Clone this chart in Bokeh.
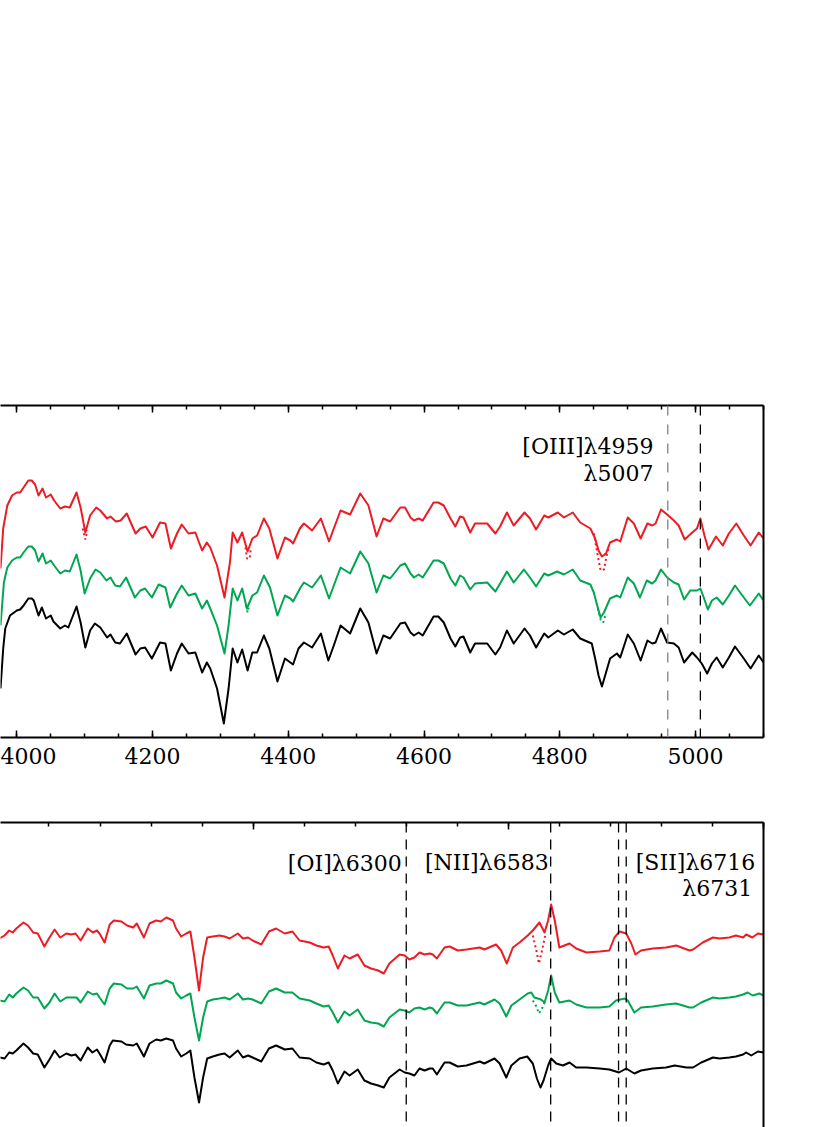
from bokeh.plotting import figure
from bokeh.models import LinearAxis, FixedTicker, Span, Label, Range1d
from bokeh.layouts import column
from bokeh.embed import file_html
from bokeh.resources import INLINE

# ---------------- data: top panel (4000-5100 A) ----------------
top_black_wl = [3976, 3980, 3983, 3990, 4000, 4005, 4010, 4017, 4022, 4025, 4032, 4037, 4043, 4050, 4054,
                4064, 4071, 4076, 4088, 4094, 4101, 4108, 4115, 4123, 4133, 4138, 4145, 4152, 4162, 4175,
                4182, 4189, 4199, 4211, 4219, 4227, 4236, 4243, 4253, 4263, 4273, 4280, 4285, 4295, 4305,
                4312, 4318, 4325, 4332, 4340, 4347, 4354, 4364, 4372, 4384, 4395, 4403, 4407, 4415, 4423,
                4435, 4448, 4459, 4467, 4477, 4491, 4506, 4518, 4530, 4540, 4550,
                4565, 4572, 4580, 4585, 4592, 4598, 4614, 4621, 4629, 4639, 4646, 4653, 4658, 4668, 4675,
                4693, 4705, 4712, 4722, 4732, 4748, 4756, 4765, 4777, 4783, 4797, 4806, 4819, 4830, 4847,
                4852, 4857, 4862, 4868, 4874, 4884, 4889, 4900, 4909, 4919, 4929, 4936, 4941, 4949, 4958,
                4968, 4975, 4983, 4995, 5002, 5009, 5017, 5024, 5031, 5040, 5049, 5058, 5071, 5081, 5093, 5100]
top_black_flux = [0.49, 0.89, 1.09, 1.22, 1.27, 1.28, 1.32, 1.39, 1.39, 1.37, 1.22, 1.30, 1.19, 1.22, 1.16,
                  1.09, 1.12, 1.10, 1.31, 1.15, 0.90, 1.07, 1.14, 1.10, 1.00, 1.03, 0.95, 0.94, 1.04, 0.83,
                  0.89, 0.90, 0.79, 0.95, 0.94, 0.67, 0.84, 0.94, 0.84, 0.85, 0.65, 0.75, 0.69, 0.49, 0.14,
                  0.49, 0.89, 0.75, 0.88, 0.67, 0.85, 0.85, 1.02, 0.89, 0.56, 0.79, 0.75, 0.73, 0.89, 0.95,
                  0.90, 1.04, 0.77, 0.92, 1.12, 1.04, 1.29, 1.15, 0.84, 1.02, 0.99,
                  1.14, 1.15, 1.05, 1.02, 1.05, 1.02, 1.21, 1.21, 1.15, 0.99, 0.91, 1.00, 1.01, 0.85, 0.94,
                  0.94, 0.83, 0.90, 1.07, 0.94, 1.09, 1.02, 0.90, 1.04, 1.00, 1.07, 1.03, 1.08, 0.99, 0.94,
                  0.79, 0.62, 0.51, 0.65, 0.79, 0.84, 0.80, 1.03, 0.94, 0.77, 0.97, 0.94, 0.95, 1.09, 0.95,
                  0.94, 0.90, 0.75, 0.85, 0.80, 0.74, 0.64, 0.74, 0.80, 0.70, 0.80, 0.91, 0.79, 0.69, 0.82, 0.75]

top_green_wl = [3976, 3981, 3986, 3993, 4000, 4005, 4010, 4017, 4022, 4027, 4032, 4038, 4043, 4050, 4055,
                4064, 4071, 4078, 4088, 4094, 4100, 4108, 4116, 4123, 4132, 4138, 4145, 4152, 4161, 4174,
                4182, 4189, 4199, 4209, 4219, 4226, 4236, 4243, 4253, 4263, 4273, 4280, 4285, 4295, 4306,
                4312, 4318, 4325, 4332, 4339, 4347, 4354, 4364, 4373, 4384, 4395, 4403, 4407, 4418, 4423,
                4435, 4448, 4460, 4467, 4477, 4491, 4506, 4518, 4530, 4540, 4550,
                4565, 4572, 4580, 4585, 4592, 4598, 4614, 4621, 4629, 4639, 4646, 4653, 4658, 4668, 4675,
                4693, 4705, 4712, 4722, 4732, 4747, 4756, 4765, 4777, 4783, 4796, 4806, 4819, 4830, 4845,
                4850, 4855, 4860, 4865, 4874, 4884, 4889, 4900, 4909, 4918, 4928, 4936, 4941, 4949, 4958,
                4968, 4975, 4983, 4992, 5002, 5007, 5012, 5018, 5024, 5031, 5040, 5049, 5058, 5071, 5080,
                5093, 5100]
top_green_flux = [1.12, 1.55, 1.70, 1.77, 1.80, 1.80, 1.85, 1.91, 1.91, 1.87, 1.76, 1.84, 1.74, 1.77, 1.72,
                  1.64, 1.67, 1.66, 1.83, 1.67, 1.44, 1.59, 1.68, 1.65, 1.57, 1.60, 1.52, 1.51, 1.60, 1.40,
                  1.47, 1.49, 1.40, 1.53, 1.50, 1.30, 1.44, 1.52, 1.42, 1.44, 1.29, 1.37, 1.29, 1.12, 0.84,
                  1.12, 1.49, 1.37, 1.49, 1.29, 1.42, 1.45, 1.62, 1.50, 1.22, 1.42, 1.39, 1.36, 1.50, 1.55,
                  1.50, 1.62, 1.39, 1.52, 1.70, 1.64, 1.86, 1.74, 1.45, 1.62, 1.59,
                  1.72, 1.74, 1.64, 1.60, 1.63, 1.60, 1.77, 1.77, 1.74, 1.59, 1.52, 1.62, 1.60, 1.48, 1.54,
                  1.55, 1.46, 1.54, 1.66, 1.55, 1.68, 1.60, 1.51, 1.64, 1.62, 1.66, 1.63, 1.68, 1.57, 1.53,
                  1.45, 1.32, 1.20, 1.25, 1.39, 1.42, 1.40, 1.60, 1.54, 1.40, 1.57, 1.54, 1.57, 1.68, 1.60,
                  1.55, 1.53, 1.38, 1.47, 1.47, 1.49, 1.40, 1.28, 1.37, 1.40, 1.33, 1.42, 1.52, 1.40, 1.32,
                  1.44, 1.37]

top_red_wl = [3976, 3980, 3986, 3993, 4000, 4005, 4010, 4017, 4022, 4027, 4032, 4038, 4043, 4050, 4055,
              4064, 4071, 4078, 4088, 4094, 4101, 4108, 4117, 4123, 4133, 4138, 4146, 4153, 4162, 4175,
              4182, 4190, 4200, 4211, 4219, 4227, 4236, 4243, 4253, 4263, 4273, 4280, 4285, 4295, 4306,
              4314, 4318, 4325, 4332, 4340, 4347, 4354, 4364, 4372, 4384, 4395, 4403, 4407, 4417, 4423,
              4435, 4448, 4460, 4467, 4477, 4491, 4506, 4518, 4530, 4540, 4550,
              4565, 4572, 4580, 4585, 4592, 4598, 4614, 4621, 4629, 4639, 4646, 4653, 4658, 4668, 4675,
              4693, 4705, 4712, 4722, 4732, 4748, 4756, 4765, 4777, 4783, 4797, 4806, 4819, 4830, 4845,
              4852, 4857, 4862, 4868, 4874, 4884, 4889, 4900, 4909, 4919, 4929, 4936, 4941, 4949, 4958,
              4968, 4975, 4984, 4995, 5002, 5007, 5013, 5019, 5030, 5040, 5049, 5060, 5071, 5081, 5093, 5100]
top_red_flux = [1.69, 2.09, 2.32, 2.42, 2.45, 2.45, 2.50, 2.57, 2.57, 2.53, 2.42, 2.49, 2.40, 2.43, 2.37,
                2.29, 2.31, 2.30, 2.45, 2.30, 2.05, 2.22, 2.30, 2.27, 2.19, 2.21, 2.16, 2.17, 2.24, 2.04,
                2.09, 2.11, 2.00, 2.15, 2.14, 1.89, 2.04, 2.13, 2.04, 2.05, 1.87, 1.95, 1.90, 1.72, 1.40,
                1.75, 2.05, 1.95, 2.05, 1.86, 1.99, 2.02, 2.19, 2.09, 1.79, 2.00, 1.97, 1.94, 2.09, 2.14,
                2.07, 2.19, 1.96, 2.09, 2.27, 2.23, 2.44, 2.32, 2.01, 2.19, 2.16,
                2.30, 2.30, 2.20, 2.17, 2.19, 2.17, 2.35, 2.35, 2.32, 2.19, 2.11, 2.21, 2.20, 2.05, 2.14,
                2.14, 2.04, 2.11, 2.25, 2.12, 2.25, 2.19, 2.08, 2.22, 2.20, 2.25, 2.20, 2.25, 2.15, 2.09,
                1.99, 1.87, 1.81, 1.84, 1.95, 1.98, 1.96, 2.20, 2.14, 1.99, 2.14, 2.12, 2.14, 2.28, 2.23,
                2.17, 2.12, 1.98, 2.05, 2.09, 2.19, 2.02, 1.88, 2.01, 1.92, 2.04, 2.14, 2.02, 1.92, 2.05, 1.99]

# dotted (uncorrected) absorption profiles, top panel
top_red_dots = [([4097, 4101, 4104], [2.09, 1.98, 2.07]),
                ([4337, 4339, 4343, 4345], [1.90, 1.79, 1.79, 1.90]),
                ([4850, 4855, 4860, 4865, 4869, 4872], [2.04, 1.85, 1.67, 1.68, 1.82, 1.90])]
top_green_dots = [([4338, 4340, 4342], [1.32, 1.25, 1.32]),
                  ([4856, 4860, 4864, 4867], [1.29, 1.18, 1.15, 1.22])]

top_lines = [4959, 5007]
top_line_colors = ["#808080", "#000000"]
top_ticks = [4000, 4200, 4400, 4600, 4800, 5000]
top_minor = list(range(3950, 5101, 50))

# ---------------- data: bottom panel (5500-7000 A) ----------------
bot_black_wl = [5503, 5513, 5522, 5529, 5536, 5550, 5559, 5569, 5578, 5591, 5601, 5611, 5621, 5634, 5644,
                5652, 5662, 5676, 5685, 5694, 5699, 5709, 5719, 5725, 5742, 5751, 5765, 5772, 5786, 5797,
                5810, 5819, 5830, 5843, 5849, 5859, 5869, 5877, 5885, 5894, 5902, 5910, 5921, 5934, 5944,
                5954, 5970, 5980, 5990, 5999, 6016, 6031, 6045, 6062, 6077, 6091, 6111, 6124, 6138, 6148,
                6156, 6166, 6179, 6189, 6205, 6218, 6231, 6245, 6256, 6267,
                6287, 6297, 6306, 6316, 6326, 6336, 6346, 6352, 6360, 6375, 6385, 6401, 6418, 6444, 6453,
                6473, 6483, 6496, 6506, 6522, 6537, 6548, 6556, 6563, 6569, 6578, 6584, 6594, 6607, 6620,
                6633, 6653, 6679, 6698, 6717, 6731, 6747, 6760, 6783, 6809, 6826, 6849, 6862, 6878, 6901,
                6914, 6933, 6946, 6960, 6966, 6976, 6989, 7000]
bot_black_flux = [0.97, 0.96, 1.02, 1.01, 1.04, 1.11, 1.07, 1.01, 1.00, 0.87, 0.95, 1.04, 0.97, 1.01, 0.99,
                  1.00, 0.94, 1.07, 1.02, 1.05, 1.01, 0.92, 1.09, 1.14, 1.13, 1.10, 1.09, 1.11, 0.98, 1.11,
                  1.15, 1.14, 1.16, 1.14, 1.06, 0.98, 1.01, 1.04, 0.77, 0.52, 0.77, 0.96, 0.98, 1.00, 1.01,
                  0.97, 1.04, 0.97, 0.99, 0.97, 0.93, 1.06, 1.09, 1.05, 1.06, 0.97, 0.96, 0.92, 0.90, 0.92,
                  0.84, 0.71, 0.83, 0.79, 0.85, 0.74, 0.71, 0.69, 0.67, 0.77,
                  0.85, 0.82, 0.81, 0.79, 0.86, 0.84, 0.86, 0.86, 0.80, 0.92, 0.92, 0.88, 0.89, 0.93, 0.91,
                  0.96, 0.91, 0.77, 0.89, 0.96, 0.98, 0.91, 0.76, 0.67, 0.74, 0.89, 0.96, 0.91, 0.89, 0.92,
                  0.87, 0.87, 0.86, 0.85, 0.82, 0.86, 0.81, 0.84, 0.86, 0.87, 0.89, 0.87, 0.87, 0.92, 0.97,
                  0.96, 0.97, 0.98, 1.00, 1.02, 0.99, 1.03, 1.02]

bot_green_wl = [5503, 5513, 5522, 5529, 5536, 5550, 5559, 5569, 5578, 5591, 5601, 5611, 5622, 5634, 5644,
                5654, 5662, 5676, 5686, 5694, 5699, 5709, 5719, 5727, 5742, 5753, 5765, 5772, 5786, 5797,
                5810, 5819, 5830, 5843, 5849, 5859, 5869, 5877, 5885, 5894, 5902, 5910, 5921, 5934, 5944,
                5954, 5970, 5980, 5990, 5999, 6016, 6031, 6045, 6062, 6077, 6091, 6111, 6124, 6138, 6148,
                6156, 6166, 6179, 6189, 6205, 6218, 6231, 6245, 6256, 6267,
                6287, 6297, 6306, 6316, 6326, 6336, 6346, 6352, 6360, 6375, 6385, 6401, 6418, 6444, 6453,
                6473, 6483, 6496, 6506, 6522, 6538, 6545, 6551, 6558, 6564, 6571, 6578, 6584, 6591, 6600,
                6620, 6633, 6653, 6679, 6698, 6711, 6728, 6734, 6747, 6760, 6783, 6809, 6829, 6855, 6862,
                6878, 6901, 6914, 6933, 6946, 6960, 6969, 6979, 6992, 7000]
bot_green_flux = [1.54, 1.53, 1.60, 1.57, 1.61, 1.67, 1.64, 1.57, 1.57, 1.46, 1.52, 1.61, 1.53, 1.57, 1.57,
                  1.57, 1.52, 1.63, 1.60, 1.61, 1.57, 1.50, 1.66, 1.71, 1.70, 1.66, 1.66, 1.68, 1.56, 1.69,
                  1.71, 1.71, 1.74, 1.71, 1.62, 1.56, 1.59, 1.61, 1.37, 1.14, 1.37, 1.53, 1.55, 1.56, 1.57,
                  1.55, 1.61, 1.55, 1.56, 1.55, 1.51, 1.63, 1.66, 1.62, 1.62, 1.56, 1.54, 1.51, 1.48, 1.49,
                  1.42, 1.32, 1.43, 1.39, 1.45, 1.34, 1.32, 1.31, 1.28, 1.37,
                  1.45, 1.44, 1.42, 1.46, 1.47, 1.45, 1.47, 1.46, 1.41, 1.52, 1.52, 1.49, 1.49, 1.52, 1.50,
                  1.55, 1.51, 1.38, 1.49, 1.55, 1.61, 1.62, 1.57, 1.56, 1.55, 1.52, 1.64, 1.79, 1.62, 1.52,
                  1.54, 1.50, 1.47, 1.47, 1.48, 1.54, 1.56, 1.54, 1.42, 1.47, 1.48, 1.50, 1.51, 1.47, 1.47,
                  1.52, 1.57, 1.56, 1.57, 1.58, 1.60, 1.62, 1.59, 1.61, 1.59]

bot_red_wl = [5503, 5513, 5522, 5529, 5536, 5550, 5559, 5569, 5578, 5591, 5601, 5611, 5622, 5634, 5644,
              5652, 5662, 5676, 5686, 5694, 5699, 5709, 5719, 5727, 5742, 5753, 5765, 5772, 5786, 5797,
              5810, 5819, 5830, 5843, 5849, 5859, 5869, 5877, 5885, 5894, 5902, 5910, 5921, 5934, 5944,
              5954, 5970, 5980, 5990, 5999, 6016, 6031, 6045, 6062, 6077, 6091, 6111, 6124, 6138, 6148,
              6156, 6166, 6179, 6189, 6205, 6218, 6231, 6245, 6256, 6267,
              6287, 6297, 6306, 6316, 6326, 6336, 6346, 6352, 6360, 6375, 6385, 6401, 6418, 6444, 6453,
              6476, 6486, 6497, 6509, 6522, 6538, 6548, 6561, 6571, 6578, 6584, 6591, 6600, 6620, 6633,
              6653, 6679, 6698, 6708, 6718, 6731, 6741, 6749, 6760, 6783, 6809, 6829, 6855, 6862, 6881,
              6901, 6914, 6933, 6946, 6960, 6966, 6978, 6989, 7000]
bot_red_flux = [2.16, 2.19, 2.24, 2.22, 2.26, 2.32, 2.29, 2.22, 2.21, 2.08, 2.17, 2.25, 2.17, 2.21, 2.20,
                2.21, 2.14, 2.26, 2.22, 2.24, 2.21, 2.12, 2.30, 2.34, 2.33, 2.29, 2.27, 2.31, 2.17, 2.31,
                2.34, 2.33, 2.37, 2.34, 2.26, 2.18, 2.21, 2.23, 1.97, 1.64, 1.97, 2.17, 2.18, 2.19, 2.18,
                2.16, 2.21, 2.16, 2.17, 2.14, 2.10, 2.23, 2.26, 2.21, 2.23, 2.14, 2.12, 2.09, 2.07, 2.08,
                1.99, 1.86, 1.99, 1.96, 2.00, 1.89, 1.86, 1.84, 1.81, 1.91,
                2.00, 1.99, 1.95, 1.97, 2.02, 2.00, 2.01, 2.00, 1.96, 2.07, 2.08, 2.04, 2.05, 2.07, 2.05,
                2.10, 2.04, 1.91, 2.07, 2.12, 2.19, 2.24, 2.32, 2.22, 2.34, 2.50, 2.34, 2.07, 2.11, 2.06,
                2.02, 2.03, 2.04, 2.17, 2.23, 2.21, 2.11, 2.00, 2.04, 2.06, 2.07, 2.09, 2.04, 2.05, 2.12,
                2.17, 2.16, 2.17, 2.19, 2.17, 2.20, 2.17, 2.21, 2.20]

bot_red_dots = [([6548, 6555, 6560, 6566, 6573], [2.19, 2.04, 1.91, 2.04, 2.21])]
bot_green_dots = [([6548, 6555, 6560, 6566, 6571], [1.54, 1.48, 1.41, 1.46, 1.52])]

bot_lines = [6300, 6583, 6716, 6731]
bot_ticks = [5500, 6000, 6500, 7000]
bot_minor = list(range(5500, 7001, 100))

RED = "#ec1c24"
GREEN = "#00a651"
BLACK = "#000000"
FONT = "DejaVu Serif"


def axis_style(ax, ticker, labels):
    ax.ticker = ticker
    ax.axis_line_width = 2
    ax.axis_line_color = "black"
    ax.major_tick_in = 7
    ax.major_tick_out = 0
    ax.minor_tick_in = 4
    ax.minor_tick_out = 0
    ax.major_tick_line_width = 1.5
    ax.minor_tick_line_width = 1.5
    ax.major_tick_line_color = "black"
    ax.minor_tick_line_color = "black"
    ax.major_label_text_font = FONT
    ax.major_label_text_font_size = "22px"
    ax.major_label_text_color = "black"
    if labels:
        ax.major_label_standoff = 10
    else:
        ax.major_label_overrides = {t: "" for t in ticker.ticks}
        ax.major_label_standoff = 0


def make_fig(xr, yr, height, border_top, border_bottom, ticks, minor, bottom_axis):
    p = figure(width=830, height=height, x_range=Range1d(*xr), y_range=Range1d(*yr),
               output_backend="svg", toolbar_location=None,
               x_axis_location=None, y_axis_location=None,
               min_border_left=0, min_border_right=67,
               min_border_top=border_top, min_border_bottom=border_bottom)
    p.outline_line_color = None
    p.grid.visible = False
    p.background_fill_color = "white"
    p.border_fill_color = "white"
    ticker = FixedTicker(ticks=ticks, minor_ticks=minor)
    top = LinearAxis()
    axis_style(top, ticker, False)
    p.add_layout(top, "above")
    if bottom_axis:
        bot = LinearAxis()
        axis_style(bot, ticker, True)
        p.add_layout(bot, "below")
    right = LinearAxis()
    axis_style(right, FixedTicker(ticks=[]), False)
    p.add_layout(right, "right")
    return p


def draw(p, wl, fl, color):
    n = min(len(wl), len(fl))
    p.line(wl[:n], fl[:n], line_color=color, line_width=2, line_join="round")


def draw_dots(p, segs, color):
    for wl, fl in segs:
        p.line(wl, fl, line_color=color, line_width=2, line_dash="2 3")


# ---------- top panel ----------
p1 = make_fig((3976, 5100), (0, 3.32), 782, 405, 45, top_ticks, top_minor, True)
for loc, col in zip(top_lines, top_line_colors):
    p1.add_layout(Span(location=loc, dimension="height", line_color=col,
                       line_width=1.3, line_dash="10 9"))
draw(p1, top_black_wl, top_black_flux, BLACK)
draw(p1, top_green_wl, top_green_flux, GREEN)
draw(p1, top_red_wl, top_red_flux, RED)
draw_dots(p1, top_green_dots, GREEN)
draw_dots(p1, top_red_dots, RED)
for txt, x, y in [("[OIII]\u03bb4959", 4938, 2.91), ("\u03bb5007", 4938, 2.64)]:
    p1.add_layout(Label(x=x, y=y, text=txt, text_align="right", text_baseline="alphabetic",
                        text_font=FONT, text_font_size="22px", text_color="black"))

# ---------- bottom panel ----------
p2 = make_fig((5505, 7000), (0.27, 3.32), 345, 40, 0, bot_ticks, bot_minor, False)
for loc in bot_lines:
    p2.add_layout(Span(location=loc, dimension="height", line_color="black",
                       line_width=1.3, line_dash="10 7"))
draw(p2, bot_black_wl, bot_black_flux, BLACK)
draw(p2, bot_green_wl, bot_green_flux, GREEN)
draw(p2, bot_red_wl, bot_red_flux, RED)
draw_dots(p2, bot_green_dots, GREEN)
draw_dots(p2, bot_red_dots, RED)
for txt, x, y in [("[OI]\u03bb6300", 6291, 2.91), ("[NII]\u03bb6583", 6579, 2.92),
                  ("[SII]\u03bb6716", 6984, 2.92), ("\u03bb6731", 6978, 2.66)]:
    p2.add_layout(Label(x=x, y=y, text=txt, text_align="right", text_baseline="alphabetic",
                        text_font=FONT, text_font_size="22px", text_color="black"))

layout = column(p1, p2, spacing=0)
open("out.html", "w").write(file_html(layout, INLINE))
